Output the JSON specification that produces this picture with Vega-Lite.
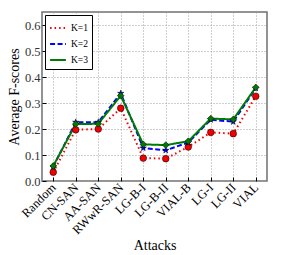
{
  "$schema": "https://vega.github.io/schema/vega-lite/v6.json",
  "width": 225,
  "height": 169,
  "autosize": {"type": "none"},
  "padding": {"left": 42, "top": 12, "right": 30, "bottom": 74},
  "config": {
    "font": "Liberation Serif",
    "view": {"stroke": "#707070", "strokeWidth": 1.5}
  },
  "data": {
    "values": [
      {"attack": "Random", "K": "K=1", "score": 0.034},
      {"attack": "Random", "K": "K=2", "score": 0.055},
      {"attack": "Random", "K": "K=3", "score": 0.058},
      {"attack": "CN-SAN", "K": "K=1", "score": 0.197},
      {"attack": "CN-SAN", "K": "K=2", "score": 0.226},
      {"attack": "CN-SAN", "K": "K=3", "score": 0.219},
      {"attack": "AA-SAN", "K": "K=1", "score": 0.200},
      {"attack": "AA-SAN", "K": "K=2", "score": 0.226},
      {"attack": "AA-SAN", "K": "K=3", "score": 0.220},
      {"attack": "RWwR-SAN", "K": "K=1", "score": 0.280},
      {"attack": "RWwR-SAN", "K": "K=2", "score": 0.337},
      {"attack": "RWwR-SAN", "K": "K=3", "score": 0.328},
      {"attack": "LG-B-I", "K": "K=1", "score": 0.088},
      {"attack": "LG-B-I", "K": "K=2", "score": 0.127},
      {"attack": "LG-B-I", "K": "K=3", "score": 0.141},
      {"attack": "LG-B-II", "K": "K=1", "score": 0.086},
      {"attack": "LG-B-II", "K": "K=2", "score": 0.118},
      {"attack": "LG-B-II", "K": "K=3", "score": 0.138},
      {"attack": "VIAL-B", "K": "K=1", "score": 0.131},
      {"attack": "VIAL-B", "K": "K=2", "score": 0.148},
      {"attack": "VIAL-B", "K": "K=3", "score": 0.153},
      {"attack": "LG-I", "K": "K=1", "score": 0.187},
      {"attack": "LG-I", "K": "K=2", "score": 0.236},
      {"attack": "LG-I", "K": "K=3", "score": 0.240},
      {"attack": "LG-II", "K": "K=1", "score": 0.182},
      {"attack": "LG-II", "K": "K=2", "score": 0.228},
      {"attack": "LG-II", "K": "K=3", "score": 0.237},
      {"attack": "VIAL", "K": "K=1", "score": 0.326},
      {"attack": "VIAL", "K": "K=2", "score": 0.357},
      {"attack": "VIAL", "K": "K=3", "score": 0.360}
    ]
  },
  "encoding": {
    "x": {
      "field": "attack",
      "type": "ordinal",
      "sort": ["Random", "CN-SAN", "AA-SAN", "RWwR-SAN", "LG-B-I", "LG-B-II", "VIAL-B", "LG-I", "LG-II", "VIAL"],
      "scale": {"type": "point", "padding": 0.5},
      "axis": {
        "title": "Attacks",
        "titleFontSize": 14,
        "titleFontWeight": "normal",
        "titleColor": "#000",
        "titleBaseline": "middle",
        "titleY": 64,
        "labelAngle": -45,
        "labelAlign": "right",
        "labelBaseline": "middle",
        "labelFontSize": 12.5,
        "labelColor": "#000",
        "labelPadding": 8,
        "domain": false,
        "grid": true,
        "gridDash": [1, 2],
        "gridColor": "#a0a0a0",
        "gridOpacity": 1,
        "tickSize": -4,
        "tickColor": "#000"
      }
    },
    "y": {
      "field": "score",
      "type": "quantitative",
      "scale": {"domain": [0, 0.65], "nice": false},
      "axis": {
        "title": "Average F-scores",
        "titleFontSize": 14,
        "titleFontWeight": "normal",
        "titleColor": "#000",
        "titleX": -28,
        "titleY": 84.5,
        "titleAlign": "center",
        "titleBaseline": "middle",
        "values": [0, 0.1, 0.2, 0.3, 0.4, 0.5, 0.6],
        "format": ".1f",
        "labelFontSize": 12.5,
        "labelColor": "#333",
        "labelPadding": 6,
        "domain": false,
        "grid": true,
        "gridDash": [1, 2],
        "gridColor": "#a0a0a0",
        "gridOpacity": 1,
        "tickSize": -4,
        "tickColor": "#000"
      }
    },
    "color": {
      "field": "K",
      "type": "nominal",
      "scale": {"domain": ["K=1", "K=2", "K=3"], "range": ["#f00000", "#0000ff", "#007a00"]},
      "legend": {
        "title": null,
        "orient": "top-left",
        "offset": 3,
        "fillColor": "white",
        "strokeColor": "#000",
        "padding": 4,
        "labelFontSize": 9.5,
        "labelColor": "#000",
        "symbolType": "stroke",
        "symbolSize": 250,
        "symbolStrokeWidth": 2,
        "rowPadding": 2
      }
    }
  },
  "layer": [
    {
      "mark": {"type": "line", "strokeWidth": 2},
      "encoding": {
        "strokeDash": {
          "field": "K",
          "type": "nominal",
          "scale": {"domain": ["K=1", "K=2", "K=3"], "range": [[1.5, 3], [5, 2.5], [1, 0]]}
        }
      }
    },
    {
      "transform": [{"filter": {"field": "K", "equal": "K=1"}}],
      "mark": {"type": "point", "shape": "circle", "filled": true, "size": 45, "opacity": 1, "stroke": "#000", "strokeWidth": 0.5}
    },
    {
      "transform": [{"filter": {"field": "K", "equal": "K=2"}}],
      "mark": {"type": "point", "shape": "M0,-1L0.22,-0.31L0.95,-0.31L0.36,0.12L0.59,0.81L0,0.38L-0.59,0.81L-0.36,0.12L-0.95,-0.31L-0.22,-0.31Z", "filled": true, "size": 45, "opacity": 1, "stroke": "#000", "strokeWidth": 0.5}
    },
    {
      "transform": [{"filter": {"field": "K", "equal": "K=3"}}],
      "mark": {"type": "point", "shape": "diamond", "filled": true, "size": 45, "opacity": 1, "stroke": "#000", "strokeWidth": 0.5}
    }
  ]
}
